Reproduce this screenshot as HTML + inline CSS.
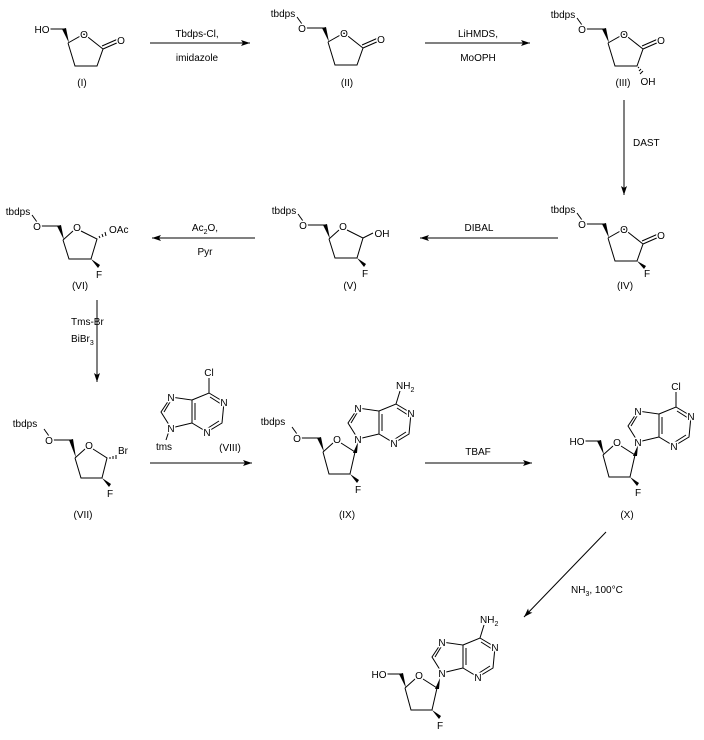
<!DOCTYPE html>
<html><head><meta charset="utf-8"><style>
html,body{margin:0;padding:0;background:#fff;}
svg{display:block;font-family:"Liberation Sans",Arial,sans-serif;font-size:10px;}
text{fill:#000;}
.a{stroke:#fff;stroke-width:3px;paint-order:stroke;stroke-linejoin:round;}
line,polyline{stroke:#000;stroke-width:1;fill:none;}
</style></head><body>
<svg width="704" height="740" viewBox="0 0 704 740" xmlns="http://www.w3.org/2000/svg">
<defs>
<marker id="ah" markerWidth="10" markerHeight="8" refX="9" refY="4" orient="auto" markerUnits="userSpaceOnUse">
<path d="M0,1 L9,4 L0,7 L2,4 Z" fill="#000"/>
</marker>
</defs>

<!-- Arrows -->
<line x1="150" y1="43" x2="250" y2="43" marker-end="url(#ah)"/>
<text x="197" y="37" text-anchor="middle">Tbdps-Cl,</text>
<text x="197" y="61" text-anchor="middle">imidazole</text>

<line x1="425" y1="43" x2="530" y2="43" marker-end="url(#ah)"/>
<text x="478" y="37" text-anchor="middle">LiHMDS,</text>
<text x="478" y="61" text-anchor="middle">MoOPH</text>

<line x1="624" y1="100" x2="624" y2="195" marker-end="url(#ah)"/>
<text x="633" y="146">DAST</text>

<line x1="558" y1="238" x2="420" y2="238" marker-end="url(#ah)"/>
<text x="479" y="231" text-anchor="middle">DIBAL</text>

<line x1="255" y1="238" x2="152" y2="238" marker-end="url(#ah)"/>
<text x="205" y="231" text-anchor="middle">Ac<tspan font-size="7" dy="3">2</tspan><tspan dy="-3">O,</tspan></text>
<text x="205" y="255" text-anchor="middle">Pyr</text>

<line x1="97" y1="300" x2="97" y2="382" marker-end="url(#ah)"/>
<text x="71" y="325">Tms-Br</text>
<text x="71" y="342">BiBr<tspan font-size="7" dy="3">3</tspan></text>

<line x1="150" y1="463" x2="252" y2="463" marker-end="url(#ah)"/>
<line x1="425" y1="463" x2="532" y2="463" marker-end="url(#ah)"/>
<text x="478" y="455" text-anchor="middle">TBAF</text>

<line x1="606" y1="532" x2="524" y2="617" marker-end="url(#ah)"/>
<text x="571" y="593">NH<tspan font-size="7" dy="3">3</tspan><tspan dy="-3">, 100</tspan>°C</text>

<!-- (I) -->
<g transform="translate(68,43)">
<polyline points="0,0 16,-9 35,6 29,23 7,23 0,0"/>
<line x1="35" y1="6" x2="51" y2="-1"/><line x1="34" y1="3" x2="50" y2="-4"/>
<polygon points="-6,-14 -2,-15 1,0" fill="#000"/>
<line x1="-4" y1="-14" x2="-18" y2="-14"/>
<text class="a" x="16" y="-5" text-anchor="middle">O</text>
<text class="a" x="53" y="1" text-anchor="middle">O</text>
<text class="a" x="-26" y="-10" text-anchor="middle">HO</text>
</g>
<text x="82" y="86" text-anchor="middle">(I)</text>

<!-- Lactone with tbdps: II, III, IV -->
<g transform="translate(328,42)">
<polyline points="0,0 16,-9 35,6 29,23 7,23 0,0"/>
<line x1="35" y1="6" x2="51" y2="-1"/><line x1="34" y1="3" x2="50" y2="-4"/>
<polygon points="-6,-14 -2,-15 1,0" fill="#000"/>
<line x1="-4" y1="-14" x2="-22" y2="-14"/><line x1="-26" y1="-18" x2="-31" y2="-25"/>
<text class="a" x="16" y="-5" text-anchor="middle">O</text>
<text class="a" x="53" y="1" text-anchor="middle">O</text>
<text class="a" x="-26" y="-10" text-anchor="middle">O</text>
<text x="-45" y="-25" text-anchor="middle">tbdps</text>
</g>
<text x="347" y="86" text-anchor="middle">(II)</text>

<g transform="translate(608,43)">
<polyline points="0,0 16,-9 35,6 29,23 7,23 0,0"/>
<line x1="35" y1="6" x2="51" y2="-1"/><line x1="34" y1="3" x2="50" y2="-4"/>
<polygon points="-6,-14 -2,-15 1,0" fill="#000"/>
<line x1="-4" y1="-14" x2="-22" y2="-14"/><line x1="-26" y1="-18" x2="-31" y2="-25"/>
<text class="a" x="16" y="-5" text-anchor="middle">O</text>
<text class="a" x="53" y="1" text-anchor="middle">O</text>
<text class="a" x="-26" y="-10" text-anchor="middle">O</text>
<text x="-45" y="-25" text-anchor="middle">tbdps</text>
<g stroke="#000"><line x1="30" y1="25" x2="31" y2="24"/><line x1="31" y1="28" x2="33" y2="26"/><line x1="32" y1="31" x2="35" y2="28"/></g>
<text x="40" y="42" text-anchor="middle">OH</text>
</g>
<text x="623" y="86" text-anchor="middle">(III)</text>

<g transform="translate(608,238)">
<polyline points="0,0 16,-9 35,6 29,23 7,23 0,0"/>
<line x1="35" y1="6" x2="51" y2="-1"/><line x1="34" y1="3" x2="50" y2="-4"/>
<polygon points="-6,-14 -2,-15 1,0" fill="#000"/>
<line x1="-4" y1="-14" x2="-22" y2="-14"/><line x1="-26" y1="-18" x2="-31" y2="-25"/>
<text class="a" x="16" y="-5" text-anchor="middle">O</text>
<text class="a" x="53" y="1" text-anchor="middle">O</text>
<text class="a" x="-26" y="-10" text-anchor="middle">O</text>
<text x="-45" y="-25" text-anchor="middle">tbdps</text>
<polygon points="29,23 36,31 38,28" fill="#000"/>
<text x="39" y="39" text-anchor="middle">F</text>
</g>
<text x="625" y="289" text-anchor="middle">(IV)</text>

<!-- Sugars: V, VI, VII -->
<g transform="translate(329,239)">
<polyline points="0,0 10,-9"/><polyline points="18,-9 34,-1 28,19 6,19 0,0"/>
<polygon points="-6,-14 -2,-15 1,0" fill="#000"/>
<line x1="-4" y1="-14" x2="-22" y2="-14"/><line x1="-26" y1="-18" x2="-31" y2="-25"/>
<text class="a" x="14" y="-9" text-anchor="middle">O</text>
<text class="a" x="-26" y="-10" text-anchor="middle">O</text>
<text x="-45" y="-25" text-anchor="middle">tbdps</text>
<line x1="34" y1="-1" x2="44" y2="-6"/>
<text class="a" x="53" y="-2" text-anchor="middle">OH</text>
<polygon points="28,19 35,28 37,25" fill="#000"/>
<text x="36" y="38" text-anchor="middle">F</text>
</g>
<text x="350" y="289" text-anchor="middle">(V)</text>

<g transform="translate(63,240)">
<polyline points="0,0 10,-9"/><polyline points="18,-9 34,-1 28,19 6,19 0,0"/>
<polygon points="-6,-14 -2,-15 1,0" fill="#000"/>
<line x1="-4" y1="-14" x2="-22" y2="-14"/><line x1="-26" y1="-18" x2="-31" y2="-25"/>
<text class="a" x="14" y="-9" text-anchor="middle">O</text>
<text class="a" x="-26" y="-10" text-anchor="middle">O</text>
<text x="-45" y="-25" text-anchor="middle">tbdps</text>
<g stroke="#000"><line x1="37" y1="-2" x2="36" y2="-4"/><line x1="40" y1="-3" x2="39" y2="-6"/><line x1="43" y1="-4" x2="42" y2="-8"/></g>
<text x="46" y="-7">OAc</text>
<polygon points="28,19 35,28 37,25" fill="#000"/>
<text x="36" y="38" text-anchor="middle">F</text>
</g>
<text x="80" y="289" text-anchor="middle">(VI)</text>

<g transform="translate(75,458)">
<polyline points="0,0 10,-9"/><polyline points="18,-9 32,0 27,20 6,20 0,0"/>
<polygon points="-6,-18 -2,-19 1,0" fill="#000"/>
<line x1="-4" y1="-18" x2="-22" y2="-18"/><line x1="-26" y1="-22" x2="-31" y2="-29"/>
<text class="a" x="14" y="-9" text-anchor="middle">O</text>
<text class="a" x="-26" y="-14" text-anchor="middle">O</text>
<text x="-50" y="-31" text-anchor="middle">tbdps</text>
<g stroke="#000"><line x1="35" y1="-1" x2="35" y2="1"/><line x1="38" y1="-2" x2="38" y2="1"/><line x1="41" y1="-3" x2="41" y2="1"/></g>
<text x="43" y="-4">Br</text>
<polygon points="27,20 34,29 36,26" fill="#000"/>
<text x="35" y="39" text-anchor="middle">F</text>
</g>
<text x="83" y="518" text-anchor="middle">(VII)</text>

<!-- VIII -->
<g transform="translate(171,428)">
<polyline points="0,0 -10,-16 0,-31 21,-28 21,-5 0,0"/>
<line x1="-7" y1="-16" x2="-1" y2="-26"/>
<line x1="24" y1="-25" x2="24" y2="-8"/>
<polyline points="21,-5 36,4 51,-5 53,-26 38,-35 21,-28"/>
<line x1="37" y1="0" x2="48" y2="-7"/>
<line x1="50" y1="-24" x2="39" y2="-31"/>
<line x1="38" y1="-35" x2="38" y2="-50"/>
<line x1="-2" y1="3" x2="-5" y2="12"/>
<text class="a" x="0" y="4" text-anchor="middle">N</text>
<text class="a" x="0" y="-27" text-anchor="middle">N</text>
<text class="a" x="36" y="8" text-anchor="middle">N</text>
<text class="a" x="53" y="-22" text-anchor="middle">N</text>
<text class="a" x="38" y="-52" text-anchor="middle">Cl</text>
<text x="-7" y="22" text-anchor="middle">tms</text>
</g>
<text x="230" y="451" text-anchor="middle">(VIII)</text>

<!-- IX -->
<g transform="translate(323,452)">
<polyline points="0,0 10,-9"/><polyline points="18,-9 32,0 27,22 6,22 0,0"/>
<polygon points="-6,-14 -2,-15 1,0" fill="#000"/>
<line x1="-4" y1="-14" x2="-22" y2="-14"/><line x1="-26" y1="-18" x2="-31" y2="-25"/>
<text class="a" x="14" y="-9" text-anchor="middle">O</text>
<text class="a" x="-26" y="-10" text-anchor="middle">O</text>
<text x="-50" y="-27" text-anchor="middle">tbdps</text>
<polygon points="30,1 34,1 35,-10" fill="#000"/>
<polygon points="27,22 34,31 36,28" fill="#000"/>
<text x="35" y="41" text-anchor="middle">F</text>
<g transform="translate(35,-13)">
<polyline points="0,0 -10,-16 0,-31 21,-28 21,-5 0,0"/>
<line x1="-7" y1="-16" x2="-1" y2="-26"/>
<line x1="24" y1="-25" x2="24" y2="-8"/>
<polyline points="21,-5 36,4 51,-5 53,-26 38,-35 21,-28"/>
<line x1="37" y1="0" x2="48" y2="-7"/>
<line x1="50" y1="-24" x2="39" y2="-31"/>
<line x1="38" y1="-35" x2="42" y2="-48"/>
<text class="a" x="0" y="4" text-anchor="middle">N</text>
<text class="a" x="0" y="-27" text-anchor="middle">N</text>
<text class="a" x="36" y="8" text-anchor="middle">N</text>
<text class="a" x="53" y="-22" text-anchor="middle">N</text>
<text class="a" x="38" y="-50">NH<tspan font-size="7" dy="3">2</tspan></text>
</g>
</g>
<text x="347" y="518" text-anchor="middle">(IX)</text>

<!-- X -->
<g transform="translate(603,455)">
<polyline points="0,0 10,-9"/><polyline points="18,-9 32,0 27,22 6,22 0,0"/>
<polygon points="-6,-14 -2,-15 1,0" fill="#000"/>
<line x1="-4" y1="-14" x2="-18" y2="-14"/>
<text class="a" x="14" y="-9" text-anchor="middle">O</text>
<text class="a" x="-26" y="-10" text-anchor="middle">HO</text>
<polygon points="30,1 34,1 35,-10" fill="#000"/>
<polygon points="27,22 34,31 36,28" fill="#000"/>
<text x="35" y="41" text-anchor="middle">F</text>
<g transform="translate(35,-13)">
<polyline points="0,0 -10,-16 0,-31 21,-28 21,-5 0,0"/>
<line x1="-7" y1="-16" x2="-1" y2="-26"/>
<line x1="24" y1="-25" x2="24" y2="-8"/>
<polyline points="21,-5 36,4 51,-5 53,-26 38,-35 21,-28"/>
<line x1="37" y1="0" x2="48" y2="-7"/>
<line x1="50" y1="-24" x2="39" y2="-31"/>
<line x1="38" y1="-35" x2="38" y2="-50"/>
<text class="a" x="0" y="4" text-anchor="middle">N</text>
<text class="a" x="0" y="-27" text-anchor="middle">N</text>
<text class="a" x="36" y="8" text-anchor="middle">N</text>
<text class="a" x="53" y="-22" text-anchor="middle">N</text>
<text class="a" x="38" y="-52" text-anchor="middle">Cl</text>
</g>
</g>
<text x="627" y="518" text-anchor="middle">(X)</text>

<!-- Final -->
<g transform="translate(405,688)">
<polyline points="0,0 10,-9"/><polyline points="18,-9 32,0 27,22 6,22 0,0"/>
<polygon points="-6,-14 -2,-15 1,0" fill="#000"/>
<line x1="-4" y1="-14" x2="-18" y2="-14"/>
<text class="a" x="14" y="-9" text-anchor="middle">O</text>
<text class="a" x="-26" y="-10" text-anchor="middle">HO</text>
<polygon points="30,1 34,1 35,-10" fill="#000"/>
<polygon points="27,22 34,31 36,28" fill="#000"/>
<text x="35" y="41" text-anchor="middle">F</text>
<g transform="translate(37,-15)">
<polyline points="0,0 -10,-16 0,-31 21,-28 21,-5 0,0"/>
<line x1="-7" y1="-16" x2="-1" y2="-26"/>
<line x1="24" y1="-25" x2="24" y2="-8"/>
<polyline points="21,-5 36,4 51,-5 53,-26 38,-35 21,-28"/>
<line x1="37" y1="0" x2="48" y2="-7"/>
<line x1="50" y1="-24" x2="39" y2="-31"/>
<line x1="38" y1="-35" x2="42" y2="-48"/>
<text class="a" x="0" y="4" text-anchor="middle">N</text>
<text class="a" x="0" y="-27" text-anchor="middle">N</text>
<text class="a" x="36" y="8" text-anchor="middle">N</text>
<text class="a" x="53" y="-22" text-anchor="middle">N</text>
<text class="a" x="38" y="-50">NH<tspan font-size="7" dy="3">2</tspan></text>
</g>
</g>
</svg>
</body></html>
